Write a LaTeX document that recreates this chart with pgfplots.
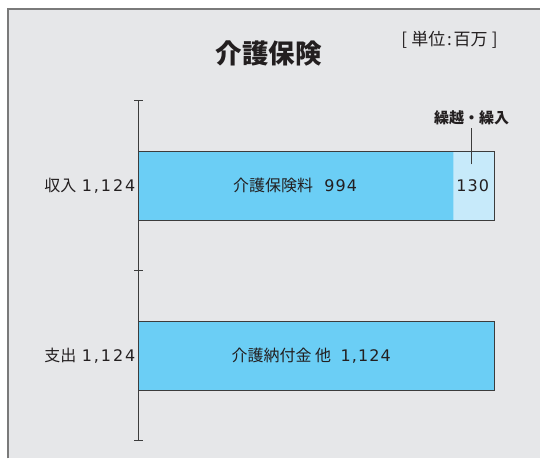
\documentclass[border=0pt]{standalone}
\usepackage{pgfplots}
\pgfplotsset{compat=1.18}
\usepackage{fontspec}
\setmainfont{Noto Sans CJK JP}
\newfontfamily\num[LetterSpace=7]{DejaVu Sans}
\newfontfamily\tnum[LetterSpace=12]{DejaVu Sans}
\definecolor{bgray}{HTML}{E6E7E9}
\definecolor{framegray}{HTML}{7A7A7A}
\definecolor{mainblue}{HTML}{6BCEF5}
\definecolor{lightblue}{HTML}{C7EAFA}
\definecolor{edge}{HTML}{3C3C3C}
\definecolor{txt}{HTML}{231F20}
\newcommand{\lab}{\fontsize{16}{18}\selectfont}
\newcommand{\nlab}{\num\fontsize{16}{18}\selectfont}
\newcommand{\tlab}{\tnum\fontsize{16}{18}\selectfont}
\begin{document}
\begin{tikzpicture}[x=1pt,y=1pt]
% page and frame
\fill[white] (0,0) rectangle (541,459);
\fill[bgray] (8,0) rectangle (541,450);
\draw[framegray, line width=1.2pt] (8,0) -- (8,450) -- (541,450);
\node[font=\fontsize{26.5}{30}\selectfont\bfseries, text=txt] at (269,405) {介護保険};
\node[font=\fontsize{17}{19}\selectfont, text=txt] at (450,419) {[\hspace{0.25em}単位\hspace{0.1em}:\hspace{0.1em}百万\hspace{0.25em}]};
\begin{axis}[
  at={(139pt,18pt)}, anchor=south west,
  width=356pt, height=340pt, scale only axis, clip=false,
  xmin=0, xmax=1124, ymin=0, ymax=2,
  axis x line=none, axis y line*=left,
  y axis line style={edge, line width=0.8pt},
  xtick=\empty, ytick={0,1,2}, yticklabels={,,},
  tick align=center, major tick length=9pt,
  tick style={edge, line width=0.8pt},
  extra y ticks={0.5,1.5},
  extra y tick labels={{支出\hspace{0.35em}{\tlab 1,124}},{収入\hspace{0.35em}{\tlab 1,124}}},
  extra y tick style={major tick length=0pt},
  yticklabel style={font=\lab, text=txt, xshift=0pt},
]
% 収入: 介護保険料 994 + 繰越・繰入 130 ; 支出: 1,124
\addplot[xbar, bar width=69pt, bar shift=0pt, fill=lightblue, draw=none]
  coordinates {(1124,1.5)};
\addplot[xbar, bar width=69pt, bar shift=0pt, fill=mainblue, draw=none]
  coordinates {(994,1.5) (1124,0.5)};
\addplot[xbar, bar width=69pt, bar shift=0pt, fill=none, draw=edge, line width=0.8pt]
  coordinates {(1124,1.5) (1124,0.5)};

\node[font=\lab, text=txt] at (axis cs:494,1.5) {介護保険料\hspace{0.7em}{\nlab 994}};
\node[font=\nlab, text=txt] at (axis cs:1055,1.5) {130};
\draw[edge, line width=0.8pt] (axis cs:1052,1.5) ++(0,21.5pt) -- ++(0,36pt);
\node[font=\fontsize{15}{17}\selectfont\bfseries, text=txt, yshift=68pt] at (axis cs:1052,1.5) {繰越・繰入};
\node[font=\lab, text=txt] at (axis cs:545,0.5) {介護納付金 他\hspace{0.6em}{\nlab 1,124}};
\end{axis}
\end{tikzpicture}
\end{document}
